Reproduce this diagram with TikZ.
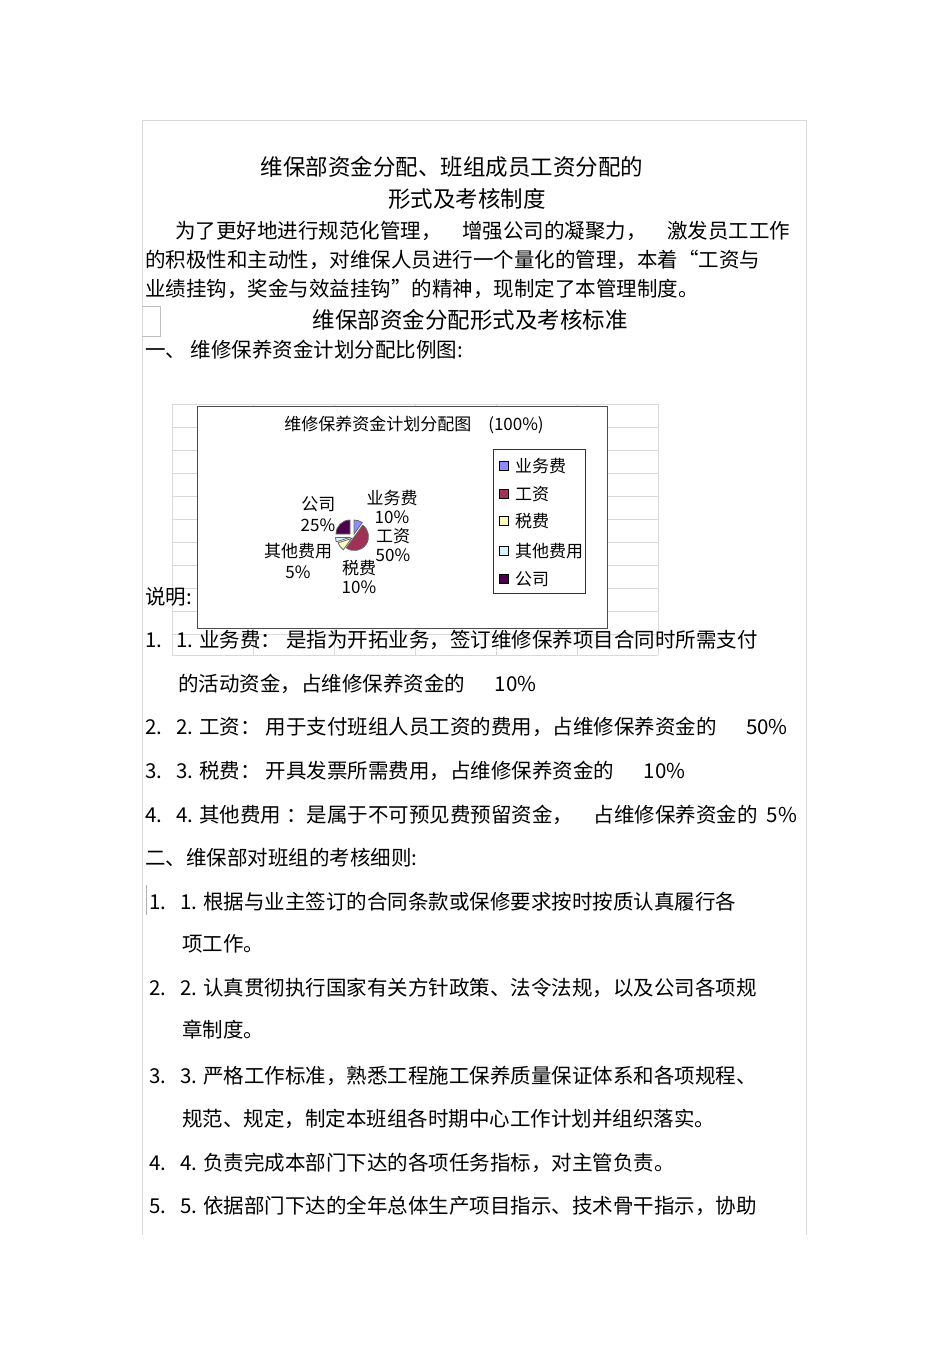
\documentclass[tikz,border=0pt]{standalone}
\usepackage{fontspec}
\setmainfont{Liberation Sans}
\newfontfamily\cjk{Noto Sans CJK SC}
\begin{document}
\begin{tikzpicture}[x=1pt,y=-1pt,
  t/.style={anchor=west,inner sep=0pt,font=\cjk\fontsize{20.5}{22}\selectfont},
  th/.style={inner sep=0pt,font=\cjk\fontsize{22.5}{24}\selectfont},
  ts/.style={inner sep=0pt,font=\cjk\fontsize{17}{19}\selectfont,align=center},
  grid/.style={draw=black!15,line width=0.8pt}]
\useasboundingbox (0,0) rectangle (950,1345);
\fill[white] (0,0) rectangle (950,1345);
\draw[black!15] (142,1235) -- (142,120) -- (806,120) -- (806,1235);
\draw[black!25] (142,306) -- (160,306) -- (160,336) -- (142,336);
% title
\node[th] (h1) at (452,167) {维保部资金分配、班组成员工资分配的};
\node[th] (h2) at (467,199) {形式及考核制度};
\node[t] (p1) at (175,231) {为了更好地进行规范化管理，\quad 增强公司的凝聚力，\quad 激发员工工作};
\node[t] (p2) at (145,260) {的积极性和主动性，对维保人员进行一个量化的管理，本着“工资与};
\node[t] (p3) at (145,289) {业绩挂钩，奖金与效益挂钩”的精神，现制定了本管理制度。};
\node[th] (h3) at (470,320) {维保部资金分配形式及考核标准};
\node[t] (s1) at (145,350) {一、 维修保养资金计划分配比例图:};
% grid behind chart
\foreach \yy in {404,427,450,473,496,519,542,565,588,611,634,655} \draw[grid] (172,\yy) -- (658,\yy);
\foreach \xx in {172,253,334,415,496,577,658} \draw[grid] (\xx,404) -- (\xx,655);
\node[t] (sm) at (145,597) {说明:};
% chart
\draw[fill=white,draw=black!70] (197,406) rectangle (607,628);
\node[ts] (ct) at (414,425) {维修保养资金计划分配图\quad (100\%)};
\begin{scope}[shift={(352,536)}]
 \begin{scope}[y=1pt,x=1pt,draw=black!60,line width=0.8pt]
 \draw[fill=blue!45] (2,2) -- ++(90:14) arc (90:54:14) -- cycle;
 \draw[fill=purple!70!black!80] (2.5,-0.5) -- ++(54:14) arc (54:-126:14) -- cycle;
 \draw[fill=yellow!25] (-0.5,-2.5) -- ++(-126:14) arc (-126:-162:14) -- cycle;
 \draw[fill=cyan!15] (-2.5,-1.5) -- ++(-162:14) arc (-162:-180:14) -- cycle;
 \draw[fill=violet!60!black] (-2,2) -- ++(180:14) arc (180:90:14) -- cycle;
 \end{scope}
\end{scope}
\node[ts] (l1) at (392,507) {业务费\\10\%};
\node[ts] (l2) at (393,545) {工资\\50\%};
\node[ts] (l3) at (359,577) {税费\\10\%};
\node[ts,align=center] (l4) at (298,561) {其他费用\\[2pt]5\%};
\node[ts,align=right] (l5) at (318,514) {公司\\[2pt]25\%};
\draw[draw=black!80,fill=white] (493,449) rectangle (585,593);
\foreach \yy/\cc/\nm in {466/blue!45/业务费,494/purple!70!black!80/工资,521/yellow!25/税费,551/cyan!15/其他费用,579/violet!60!black/公司}{
 \draw[fill=\cc,draw=black] (499,\yy-4.5) rectangle (508,\yy+4.5);
 \node[ts,anchor=west] at (515,\yy) {\nm};
}
% list 1
\node[t] (a1) at (145,640) {1.\hspace{14pt}1. 业务费： 是指为开拓业务，签订维修保养项目合同时所需支付};
\node[t] (a1b) at (178,684) {的活动资金，占维修保养资金的\quad\ \ 10\%};
\node[t] (a2) at (145,727) {2.\hspace{14pt}2. 工资： 用于支付班组人员工资的费用，占维修保养资金的\quad\ \ 50\%};
\node[t] (a3) at (145,771) {3.\hspace{14pt}3. 税费： 开具发票所需费用，占维修保养资金的\quad\ \ 10\%};
\node[t] (a4) at (145,815) {4.\hspace{14pt}4. 其他费用 ：是属于不可预见费预留资金，\quad 占维修保养资金的\ \ 5\%};
\node[t] (s2) at (145,858) {二、维保部对班组的考核细则:};
\draw[black!30] (146,885) -- (146,915);
\node[t] (b1) at (149,902) {1.\hspace{14pt}1. 根据与业主签订的合同条款或保修要求按时按质认真履行各};
\node[t] (b1b) at (182,944) {项工作。};
\node[t] (b2) at (149,988) {2.\hspace{14pt}2. 认真贯彻执行国家有关方针政策、法令法规，以及公司各项规};
\node[t] (b2b) at (182,1030) {章制度。};
\node[t] (b3) at (149,1076) {3.\hspace{14pt}3. 严格工作标准，熟悉工程施工保养质量保证体系和各项规程、};
\node[t] (b3b) at (182,1119) {规范、规定，制定本班组各时期中心工作计划并组织落实。};
\node[t] (b4) at (149,1163) {4.\hspace{14pt}4. 负责完成本部门下达的各项任务指标，对主管负责。};
\node[t] (b5) at (149,1206) {5.\hspace{14pt}5. 依据部门下达的全年总体生产项目指示、技术骨干指示，协助};
\end{tikzpicture}
\end{document}
